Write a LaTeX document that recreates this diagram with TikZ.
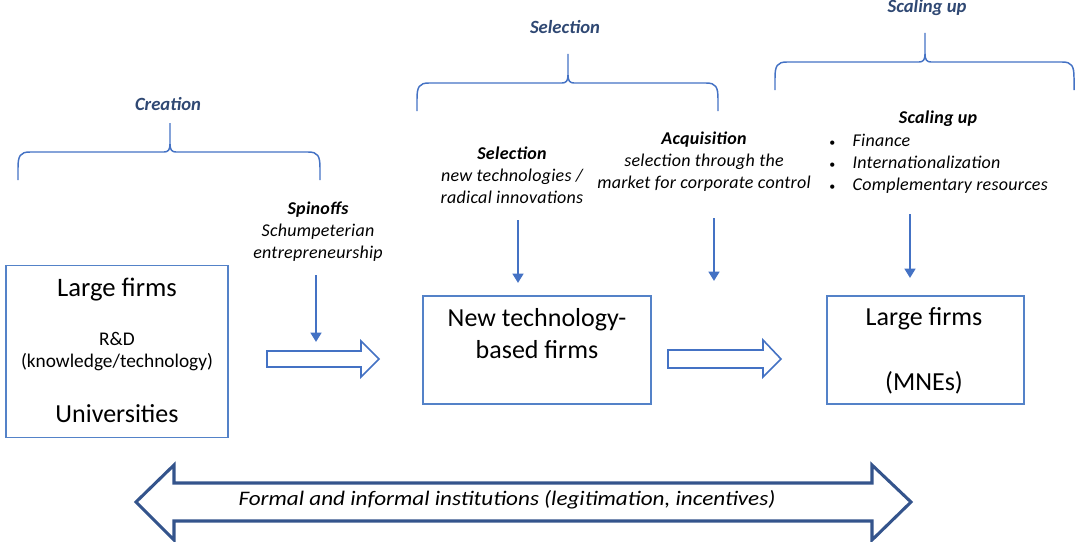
\documentclass[tikz,border=0pt]{standalone}
\usepackage{fontspec}
\usepackage{graphicx}
\setmainfont{Carlito}
\usetikzlibrary{arrows.meta}
\definecolor{brc}{RGB}{68,114,196}
\definecolor{boxc}{RGB}{84,130,200}
\definecolor{hdr}{RGB}{47,72,115}
\definecolor{darkbl}{RGB}{52,84,140}
\newcommand{\mybrace}[4]{%
  \draw[bracestyle] (#1,#4+28) -- (#1,#4+16) .. controls (#1,#4+4) and (#1+2,#4) .. (#1+12,#4)
    -- (#3-6,#4) .. controls (#3-2,#4) and (#3,#4-2) .. (#3,#4-8) -- (#3,#4-29)
    (#3,#4-8) .. controls (#3,#4-2) and (#3+2,#4) .. (#3+6,#4)
    -- (#2-12,#4) .. controls (#2-2,#4) and (#2,#4+4) .. (#2,#4+16) -- (#2,#4+28);}
\begin{document}
\begin{tikzpicture}[x=0.75pt,y=-0.75pt,
  bracestyle/.style={draw=brc, line width=1.1pt},
  hdrtext/.style={text=hdr, font=\fontsize{14}{16}\selectfont\bfseries\itshape},
  smalltext/.style={align=center, font=\fontsize{13.5}{16.5}\selectfont\itshape\addfontfeature{LetterSpace=1.5}},
  boxnode/.style={draw=boxc, line width=1pt, fill=white},
  bigtext/.style={align=center, font=\fontsize{19.5}{24}\selectfont},
  thinarrow/.style={draw=brc, line width=2pt, -{Triangle[width=8pt,length=7pt]}},
  blockarrow/.style={draw=brc, line width=1.2pt, fill=white},
  dblarrow/.style={draw=darkbl, line width=2.3pt, fill=white, line join=miter}]
\useasboundingbox (0,0) rectangle (1077,542);

% braces
\mybrace{18}{320}{170}{152}
\mybrace{417}{718}{568}{83}
\mybrace{775}{1074}{925}{62}

% headers
\node[hdrtext] (hcre) at (168,104) {Creation};
\node[hdrtext] (hsel) at (565,27) {Selection};
\node[hdrtext] (hsca) at (927,8) {Scaling up};

% labels
\node[smalltext] (spin) at (318,232) {\textbf{Spinoffs}\\Schumpeterian\\entrepreneurship};
\node[smalltext] (sel) at (512,175) {\textbf{Selection}\\new technologies / \\radical innovations};
\node[smalltext] (acq) at (704,162) {\textbf{Acquisition}\\selection through the \\market for corporate control};
\node[font=\fontsize{13.5}{16}\selectfont\bfseries\itshape\addfontfeature{LetterSpace=1.5}] (sca) at (938,119) {Scaling up};
\node[anchor=north west, inner sep=0pt, font=\fontsize{13.5}{16.5}\selectfont\itshape\addfontfeature{LetterSpace=1.5}] (list) at (829,131)
  {\begin{tabular}{@{}l@{\hspace{13pt}}l@{}}
   \upshape\small\textbullet & Finance\\
   \upshape\small\textbullet & Internationalization\\
   \upshape\small\textbullet & Complementary resources
   \end{tabular}};

% boxes
\node[boxnode, minimum width=166.5pt, minimum height=129pt] (b1) at (117,351.5) {};
\node[bigtext, font=\fontsize{20}{24}\selectfont] (b1a) at (117,290) {Large firms};
\node[align=center, font=\fontsize{14.5}{16.5}\selectfont] (b1b) at (117,352) {R\&D\\(knowledge/technology)};
\node[bigtext] (b1c) at (117,414) {Universities};

\node[boxnode, minimum width=171pt, minimum height=81pt] (b2) at (537,350) {};
\node[bigtext] (b2a) at (537,334) {New technology-\\based firms};

\node[boxnode, minimum width=147.75pt, minimum height=81pt] (b3) at (925.5,350) {};
\node[bigtext] (b3a) at (924,319) {Large firms};
\node[bigtext] (b3b) at (924,383) {(MNEs)};

% thin arrows
\coordinate (t1s) at (316,275); \coordinate (t1e) at (316,342);
\coordinate (t2s) at (518,220); \coordinate (t2e) at (518,283);
\coordinate (t3s) at (714,218); \coordinate (t3e) at (714,281);
\coordinate (t4s) at (910,214); \coordinate (t4e) at (910,278);
\draw[thinarrow] (t1s) -- (t1e);
\draw[thinarrow] (t2s) -- (t2e);
\draw[thinarrow] (t3s) -- (t3e);
\draw[thinarrow] (t4s) -- (t4e);

% block arrows
\draw[blockarrow] (267,351) -- (361,351) -- (361,341) -- (379,359) -- (361,377) -- (361,367) -- (267,367) -- cycle;
\draw[blockarrow] (668,350) -- (763,350) -- (763,340) -- (781,359) -- (763,377) -- (763,368) -- (668,368) -- cycle;

% bottom double arrow
\draw[dblarrow] (136,502) -- (174,465) -- (174,483) -- (872,483) -- (872,465) -- (911,502)
  -- (872,540) -- (872,521) -- (174,521) -- (174,540) -- cycle;
\node[font=\fontsize{15.5}{18}\selectfont\itshape] (inst) at (507,500) {\scalebox{1.12}[1]{Formal and informal institutions (legitimation, incentives)}};
\end{tikzpicture}
\end{document}
